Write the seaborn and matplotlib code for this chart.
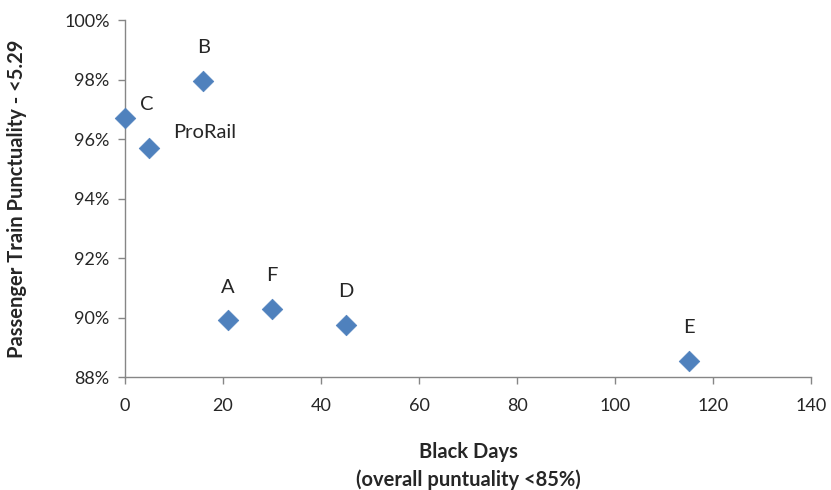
import matplotlib
matplotlib.use("Agg")
import matplotlib.pyplot as plt
import matplotlib.ticker as mticker
import seaborn as sns
import pandas as pd

# operators and their values
names = ["C", "ProRail", "B", "A", "F", "D", "E"]
black_days = [0, 5, 16, 21, 30, 45, 115]
punctuality = [0.967, 0.957, 0.9795, 0.899, 0.903, 0.8975, 0.8853]

df = pd.DataFrame({"name": names, "days": black_days, "punct": punctuality})

sns.set_style("white")
plt.rcParams["font.family"] = ["Lato", "DejaVu Sans"]

fig = plt.figure(figsize=(8.31, 4.9), dpi=100)
ax = fig.add_axes([0.1504, 0.2306, 0.8256, 0.7284])

sns.scatterplot(data=df, x="days", y="punct", marker="D", s=110,
                color="#4F81BD", edgecolor="#4F81BD", linewidth=0.5, ax=ax,
                zorder=3, clip_on=False)

# label offsets in points (dx, dy, ha)
offsets = {"C": (11, 10, "left"), "ProRail": (17, 11, "left")}
for _, r in df.iterrows():
    dx, dy, ha = offsets.get(r["name"], (0, 24, "center"))
    ax.annotate(r["name"], (r["days"], r["punct"]), xytext=(dx, dy),
                textcoords="offset points", ha=ha, va="center", fontsize=14.5)

ax.set_xlim(0, 140)
ax.set_ylim(0.88, 1.0)
ax.set_xticks(range(0, 141, 20))
ax.set_yticks([0.88, 0.90, 0.92, 0.94, 0.96, 0.98, 1.00])
ax.yaxis.set_major_formatter(mticker.PercentFormatter(1.0, decimals=0))
ax.tick_params(axis="both", labelsize=13, length=5, width=1, color="#868686",
               direction="out", bottom=True, left=True, pad=6)
ax.tick_params(axis="x", pad=10)

for s in ["top", "right"]:
    ax.spines[s].set_visible(False)
for s in ["left", "bottom"]:
    ax.spines[s].set_color("#868686")
    ax.spines[s].set_linewidth(1)

ax.set_xlabel("Black Days\n(overall puntuality <85%)", fontsize=14.5,
              fontweight="bold", labelpad=20, linespacing=1.45)
ax.set_ylabel("Passenger Train Punctuality - <5.29", fontsize=14.5,
              fontweight="bold")
ax.yaxis.set_label_coords(-0.143, 0.5)

fig.savefig("out.png", dpi=100)
